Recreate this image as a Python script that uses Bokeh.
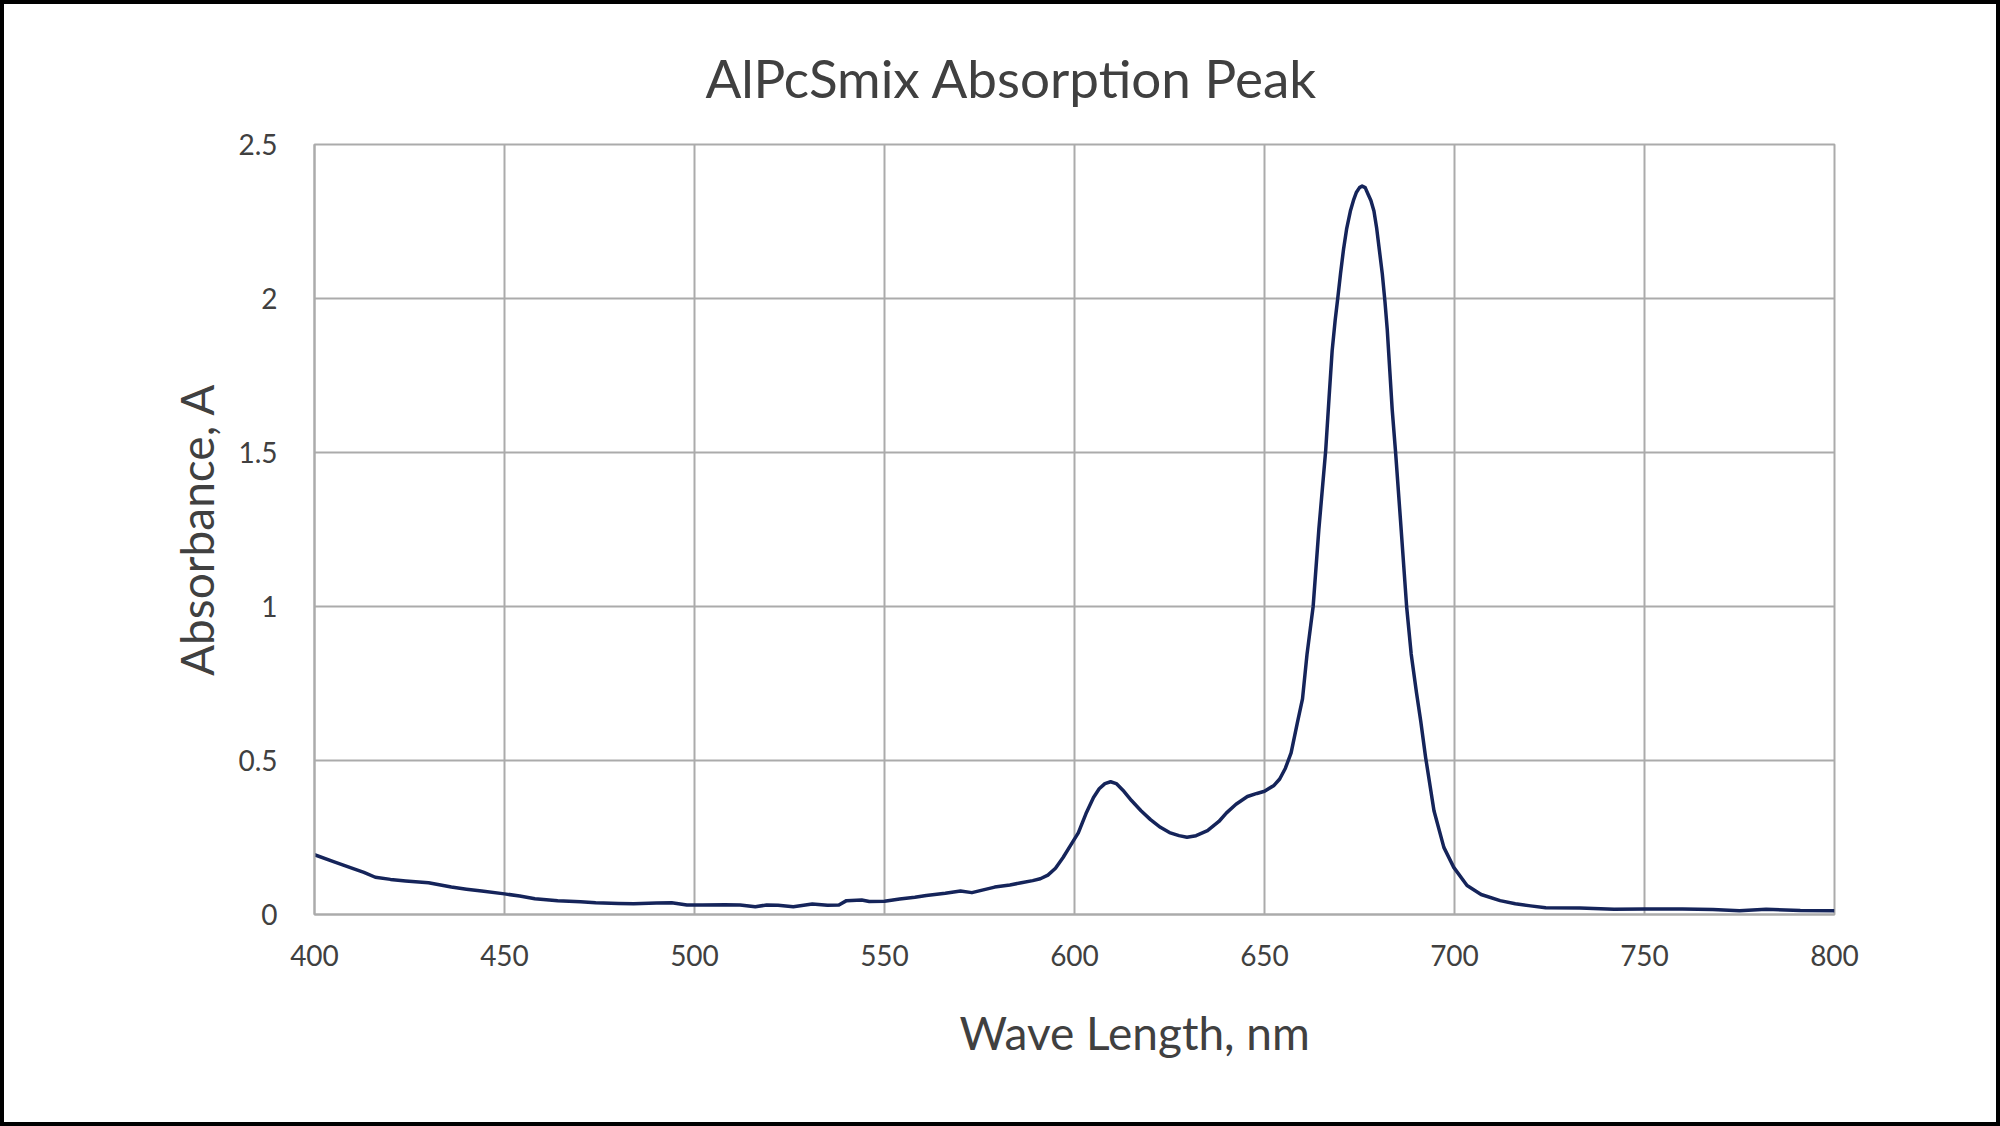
from bokeh.plotting import figure
from bokeh.models import Range1d, Title, FixedTicker, InlineStyleSheet
from bokeh.embed import file_html
from bokeh.resources import INLINE

# Absorption spectrum of AlPcSmix
wavelength_nm = [
    400, 405, 410, 413, 416, 420, 424, 430, 436, 440, 444, 450, 454, 458, 464,
    470, 474, 480, 484, 490, 494, 498, 502, 508, 512, 516, 519, 522, 526, 531,
    535, 538, 540, 544, 546, 550, 554, 558, 561, 566, 570, 573, 576, 579, 583,
    586, 589, 591, 593, 595, 597, 599, 601, 603, 605, 606.5, 608, 609.5, 611,
    613, 615, 617.5, 620, 622.6, 625, 627.5, 629.6, 632, 635, 638, 640, 642.5,
    645.5, 648, 650, 652.5, 654, 655.5, 657, 658.6, 660, 661.2, 662.8, 664.3,
    666.1, 667, 667.8, 668.6, 669.3, 670, 670.8, 671.6, 672.6, 673.5, 674.2,
    675, 675.7, 676.5, 677.2, 678, 678.8, 679.5, 680.2, 681, 681.7, 682.3, 683,
    683.6, 684.5, 685.8, 687.4, 688.6, 690, 691.1, 692.4, 694.6, 697.2, 699.8,
    703.3, 707, 712, 716, 720, 724, 733, 742, 750, 760, 768, 775, 782, 791, 800,
]
absorbance = [
    0.194, 0.172, 0.150, 0.137, 0.121, 0.114, 0.109, 0.103, 0.089, 0.082, 0.076,
    0.067, 0.060, 0.051, 0.045, 0.041, 0.038, 0.036, 0.035, 0.037, 0.038, 0.031,
    0.031, 0.032, 0.031, 0.025, 0.031, 0.030, 0.025, 0.034, 0.030, 0.031, 0.045,
    0.047, 0.042, 0.043, 0.050, 0.056, 0.062, 0.069, 0.076, 0.071, 0.080, 0.089,
    0.096, 0.103, 0.110, 0.116, 0.128, 0.150, 0.185, 0.225, 0.265, 0.327, 0.380,
    0.408, 0.425, 0.431, 0.425, 0.400, 0.370, 0.337, 0.308, 0.283, 0.266, 0.256,
    0.251, 0.256, 0.272, 0.302, 0.330, 0.358, 0.383, 0.393, 0.400, 0.419, 0.440,
    0.475, 0.525, 0.620, 0.700, 0.846, 1.000, 1.250, 1.506, 1.680, 1.830, 1.930,
    2.003, 2.080, 2.160, 2.225, 2.284, 2.322, 2.345, 2.360, 2.365, 2.360, 2.340,
    2.318, 2.284, 2.230, 2.160, 2.080, 1.990, 1.900, 1.760, 1.640, 1.500, 1.278,
    1.000, 0.846, 0.720, 0.629, 0.510, 0.337, 0.218, 0.153, 0.094, 0.065, 0.045,
    0.035, 0.028, 0.022, 0.021, 0.017, 0.018, 0.018, 0.016, 0.012, 0.017, 0.013,
    0.012,
]

x_ticks = [400, 450, 500, 550, 600, 650, 700, 750, 800]
y_ticks = [0, 0.5, 1, 1.5, 2, 2.5]
y_tick_labels = ["0", "0.5", "1", "1.5", "2", "2.5"]

FONT = "Lato"
TEXT = "#404040"
GRID = "#ababab"

p = figure(
    width=1992, height=1118,
    output_backend="svg", toolbar_location=None,
    x_range=Range1d(400, 800), y_range=Range1d(0, 2.5),
    min_border_left=310, min_border_right=170,
    min_border_top=140, min_border_bottom=216,
    background_fill_color="white", border_fill_color="white",
)
# black frame round the whole chart area
p.stylesheets = [InlineStyleSheet(
    css=":host { border: 4px solid black; box-sizing: content-box !important; }")]

p.line(wavelength_nm, absorbance, line_color="#15245a", line_width=3.5,
       line_join="round")

# grid and frame
for g in (p.xgrid, p.ygrid):
    g.grid_line_color = GRID
    g.grid_line_width = 2
p.xgrid.ticker = FixedTicker(ticks=x_ticks)
p.ygrid.ticker = FixedTicker(ticks=y_ticks)
p.outline_line_color = GRID
p.outline_line_width = 2

# axes
p.xaxis.ticker = FixedTicker(ticks=x_ticks)
p.yaxis.ticker = FixedTicker(ticks=y_ticks)
p.yaxis.major_label_overrides = dict(zip(y_ticks, y_tick_labels))
for ax in (p.xaxis[0], p.yaxis[0]):
    ax.axis_line_color = GRID
    ax.axis_line_width = 2
    ax.major_tick_line_color = None
    ax.minor_tick_line_color = None
    ax.major_tick_out = 0
    ax.major_tick_in = 0
    ax.major_label_text_font = FONT
    ax.major_label_text_font_size = "28px"
    ax.major_label_text_color = TEXT
p.xaxis.major_label_standoff = 30
p.yaxis.major_label_standoff = 37

p.yaxis.axis_label = "Absorbance, A"
p.yaxis.axis_label_text_font = FONT
p.yaxis.axis_label_text_font_size = "46px"
p.yaxis.axis_label_text_font_style = "normal"
p.yaxis.axis_label_text_color = TEXT
p.yaxis.axis_label_standoff = 11

p.add_layout(Title(text="Wave Length, nm", align="left", offset=645,
                   text_font=FONT, text_font_size="46px",
                   text_font_style="normal", text_color=TEXT,
                   standoff=68), "below")
p.add_layout(Title(text="AlPcSmix Absorption Peak", align="left",
                   offset=391, text_font=FONT, text_font_size="53px",
                   text_font_style="normal", text_color=TEXT,
                   standoff=71), "above")

open("out.html", "w").write(file_html(p, INLINE))
